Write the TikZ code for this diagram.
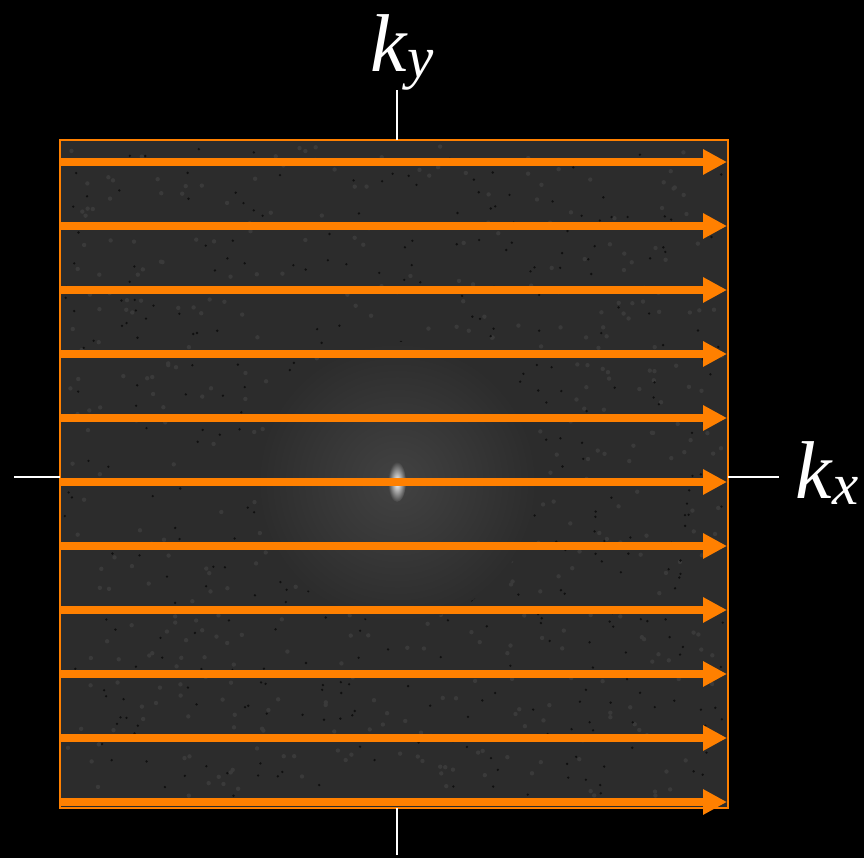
\documentclass[tikz,border=0pt]{standalone}
\usepackage{fontspec}
\setmainfont{Liberation Serif}
\usetikzlibrary{positioning, arrows.meta, calc}

\definecolor{scanorange}{RGB}{255,128,0}
\definecolor{ksgray}{RGB}{44,44,44}
\definecolor{ksspeck}{RGB}{16,16,16}
\definecolor{ksgrain}{RGB}{58,58,58}
\definecolor{kshalo}{RGB}{66,66,66}

\newcommand{\kvar}[1]{\textit{k}\raisebox{-0.08em}{\scalebox{0.72}{\textit{#1}}}}

\begin{document}
\begin{tikzpicture}[
    x=0.03cm, y=-0.03cm,
    kspace/.style={
        draw=scanorange,
        fill=ksgray,
        line width=0.08cm,
        minimum width=20.04cm,
        minimum height=20.04cm,
        inner sep=0pt,
        outer sep=0pt
    },
    axisline/.style={
        draw=white,
        line width=0.06cm
    },
    readout/.style={
        -{Triangle[length=0.72cm, width=0.72cm]},
        draw=scanorange,
        line width=0.22cm
    },
    axislabel/.style={
        text=white,
        font=\fontsize{70}{84}\selectfont,
        inner sep=0pt,
        anchor=base
    }
]

% --- Background -----------------------------------------------------------
\fill[black] (0,0) rectangle (864,858);
\useasboundingbox (0,0) rectangle (864,858);

% --- k-space image --------------------------------------------------------
\node[kspace] (ks) at (394,474) {};

\pgfmathsetseed{4711}
\foreach \n in {1,...,500} {
    \fill[ksgrain] ({66+656*rnd}, {146+656*rnd}) circle (2.2);
}
\foreach \n in {1,...,420} {
    \fill[ksspeck] ({64+660*rnd}, {144+660*rnd}) circle (1.3);
}
\shade[inner color=kshalo, outer color=ksgray] (397,482) circle (140);
\shade[inner color=white, outer color=kshalo] (397,482) ellipse (9 and 20);

% --- Readout lines (one per phase encoding step) ----------------------------
\foreach \i in {0,...,10} {
    \coordinate (rs\i) at ($(ks.north west)+(0,{22+64*\i})$);
    \coordinate (re\i) at ($(ks.north east)+(-1,{22+64*\i})$);
    \draw[readout] (rs\i) -- (re\i);
}

% --- Axes ----------------------------------------------------------------
\coordinate (ytop) at (397,90);
\coordinate (ybot) at (397,855);
\coordinate (xleft) at (14,477);
\coordinate (xright) at (779,477);

\draw[axisline] (ytop) -- (ytop |- ks.north);
\draw[axisline] (ybot) -- (ybot |- ks.south);
\draw[axisline] (xleft) -- (xleft -| ks.west);
\draw[axisline] (xright) -- (xright -| ks.east);

% --- Axis labels ---------------------------------------------------------
\node[axislabel] (kylab) at (402,71) {\kvar{y}};
\node[axislabel] (kxlab) at (827,498) {\kvar{x}};

\end{tikzpicture}
\end{document}
